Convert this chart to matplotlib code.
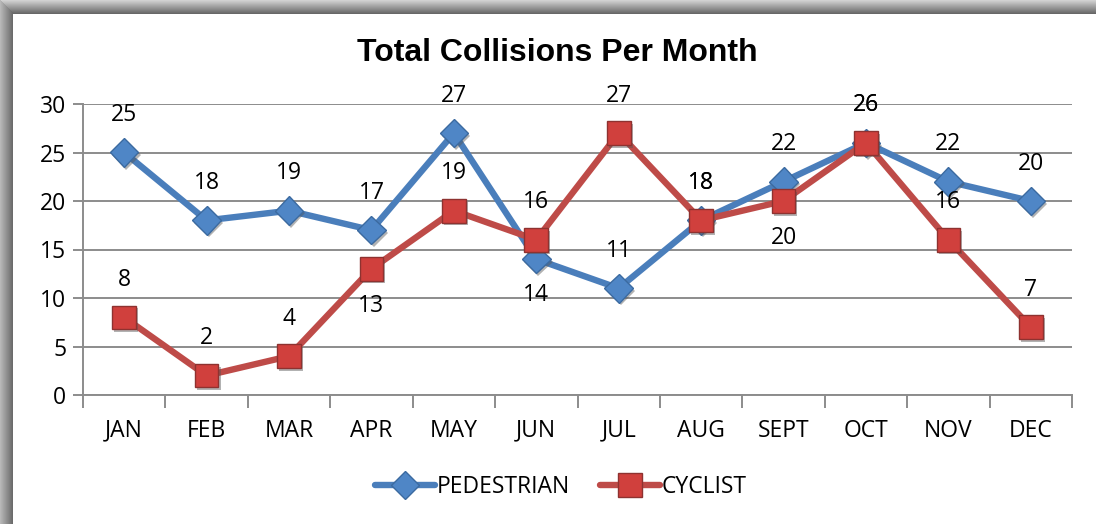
import matplotlib
matplotlib.use("Agg")
import matplotlib.pyplot as plt
from matplotlib.patches import Rectangle
import matplotlib.patheffects as pe
import numpy as np

months = ["JAN", "FEB", "MAR", "APR", "MAY", "JUN", "JUL", "AUG", "SEPT", "OCT", "NOV", "DEC"]
pedestrian = [25, 18, 19, 17, 27, 14, 11, 18, 22, 26, 22, 20]
cyclist = [8, 2, 4, 13, 19, 16, 27, 18, 20, 26, 16, 7]
ped_label_pos = ["a", "a", "a", "a", "a", "b", "a", "a", "a", "a", "a", "a"]
cyc_label_pos = ["a", "a", "a", "b", "a", "a", "a", "a", "b", "a", "a", "a"]
yticks = [0, 5, 10, 15, 20, 25, 30]

W, H = 1096, 524
fig = plt.figure(figsize=(W / 100, H / 100), dpi=100)
fig.patch.set_facecolor("white")

# frame (shadowed border)
def px_rect(x0, y0, w, h, color):
    fig.add_artist(Rectangle((x0 / W, 1 - (y0 + h) / H), w / W, h / H,
                             transform=fig.transFigure, facecolor=color,
                             edgecolor="none", zorder=0))

for i in range(14):
    g = 0.82 - 0.032 * i
    px_rect(0, i, W, 1, (g, g, g))
for i in range(13):
    g = 0.72 - 0.025 * i
    px_rect(i, i, 1, H - i, (g, g, g))

ax = fig.add_axes([83 / W, 1 - 395 / H, (1072 - 83) / W, (395 - 104) / H])
ax.set_facecolor("none")

x = np.arange(len(months))
blue = "#4A7EBB"
red = "#BE4B48"
font = "Open Sans"
fs = 16.5

shadow = [pe.withSimplePatchShadow(offset=(1.5, -2), shadow_rgbFace="#555555", alpha=0.45)]

ax.plot(x, pedestrian, color=blue, lw=4.6, solid_capstyle="round", zorder=3)
ax.plot(x, pedestrian, ls="none", marker="D", ms=14.5, mfc="#4F86C6",
        mec="#3B6AA0", mew=1, zorder=4, path_effects=shadow)
ax.plot(x, cyclist, color=red, lw=4.6, solid_capstyle="round", zorder=5)
ax.plot(x, cyclist, ls="none", marker="s", ms=17, mfc="#D0403D",
        mec="#8E3230", mew=1, zorder=6, path_effects=shadow)

for xi, v, p in zip(x, pedestrian, ped_label_pos):
    ax.annotate(str(v), (xi, v), xytext=(0, 27 if p == "a" else -26),
                textcoords="offset points", ha="center", va="center",
                fontsize=fs, family=font, zorder=8)
for xi, v, p in zip(x, cyclist, cyc_label_pos):
    ax.annotate(str(v), (xi, v), xytext=(0, 27 if p == "a" else -27),
                textcoords="offset points", ha="center", va="center",
                fontsize=fs, family=font, zorder=8)

ax.set_xlim(-0.5, len(months) - 0.5)
ax.set_ylim(0, 30)
ax.set_yticks(yticks)
ax.set_yticklabels([str(t) for t in yticks], family=font, fontsize=fs)
ax.yaxis.grid(True, color="#8C8C8C", lw=1.4, zorder=1)
ax.set_axisbelow(True)

ax.set_xticks(x)
ax.set_xticklabels(months, family=font, fontsize=fs)
ax.set_xticks(np.arange(-0.5, len(months)), minor=True)
ax.tick_params(axis="x", which="major", length=0, pad=17)
ax.tick_params(axis="x", which="minor", length=9, width=1.4, color="#8C8C8C")
ax.tick_params(axis="y", length=7, width=1.4, color="#8C8C8C", pad=5)

for s in ["top", "right"]:
    ax.spines[s].set_visible(False)
for s in ["left", "bottom"]:
    ax.spines[s].set_color("#8C8C8C")
    ax.spines[s].set_linewidth(1.4)

fig.text(557 / W, 1 - 53 / H, "Total Collisions Per Month", ha="center", va="center",
         fontsize=23, fontweight="bold", family="Liberation Sans")

h1, = ax.plot([], [], color=blue, lw=4.6, marker="D", ms=14.5, mfc="#4F86C6",
              mec="#3B6AA0", solid_capstyle="round")
h2, = ax.plot([], [], color=red, lw=4.6, marker="s", ms=17, mfc="#D0403D",
              mec="#8E3230", solid_capstyle="round")
fig.legend([h1, h2], ["PEDESTRIAN", "CYCLIST"], loc="center",
           bbox_to_anchor=(561 / W, 1 - 487 / H), ncol=2, frameon=False,
           prop={"family": font, "size": fs}, handlelength=2.6,
           handletextpad=0.1, columnspacing=1.3)

fig.savefig("out.png", dpi=100, facecolor="white")
